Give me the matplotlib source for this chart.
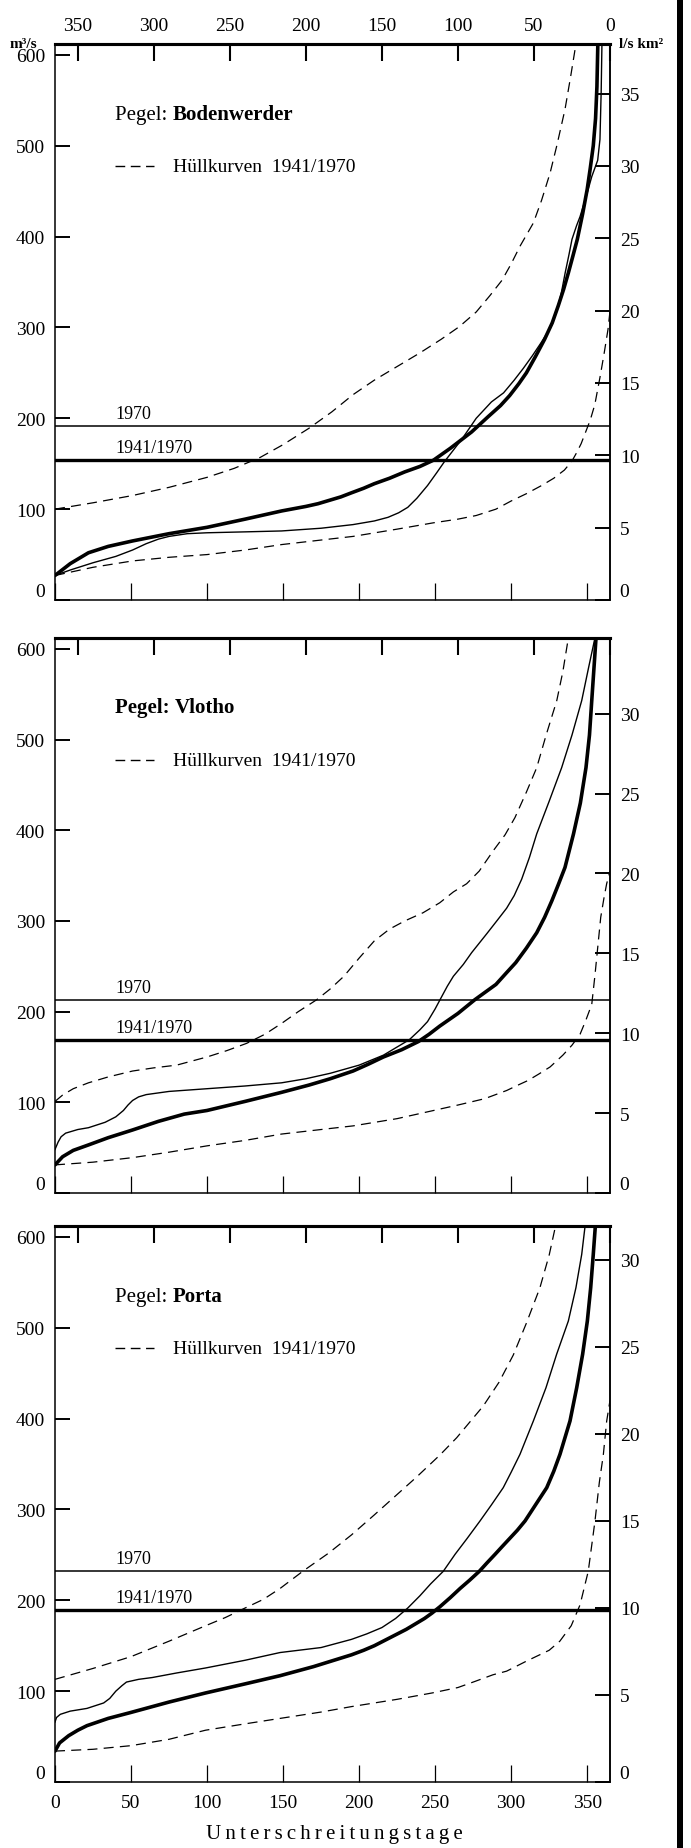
import matplotlib
matplotlib.use("Agg")
import matplotlib.pyplot as plt
from matplotlib.patches import Rectangle

plt.rcParams['font.family'] = ['Liberation Serif', 'DejaVu Serif']

# ---------------------------------------------------------------------------
# Gauges, catchment areas (km²) and mean discharges (m³/s)
# ---------------------------------------------------------------------------
stations = ["Bodenwerder", "Vlotho", "Porta"]
catchment_km2 = [15924, 17618, 19162]
mq_1970 = [191, 213, 232]
mq_1941_1970 = [154, 169, 189]

day_ticks = [0, 50, 100, 150, 200, 250, 300, 350]
q_ticks = [0, 100, 200, 300, 400, 500, 600]

# --- Bodenwerder -------------------------------------------------------------
bod_mean_day = [0, 10, 22, 35, 51, 75, 100, 125, 149, 165, 173, 181, 188, 195, 203, 210,
                220, 230, 240, 249, 260, 274, 285, 293, 299, 305, 310, 316, 322, 327,
                331, 334.5, 337.6, 340.5, 343.5, 347, 350, 352, 354, 355.5, 356.4,
                357, 357.3]
bod_mean_q = [27, 40, 52, 59, 65, 73, 80, 89, 98, 103, 106, 110, 113.5, 118, 123, 128,
              134, 141, 147, 154, 167, 185, 202, 214, 225, 238, 250, 268, 287, 305,
              324, 342, 360, 378, 397, 425, 452, 475, 500, 530, 565,
              612, 640]

bod_1970_day = [0, 10, 25, 40, 51, 60, 68, 75, 87, 100, 125, 149, 175, 196, 210, 219,
                226, 232, 238, 245, 251, 256, 262, 268, 277, 287, 295, 302, 308, 314,
                320, 326, 330, 333, 335.5, 338, 340, 343, 345.3, 350, 353, 356.9,
                358.4, 359.2, 359.7, 360]
bod_1970_q = [27, 33, 41, 48, 55, 62, 67, 70, 73, 74, 75, 76, 79, 83, 87, 91,
              96, 102, 112, 126, 140, 152, 165, 178, 200, 218, 228, 242, 255, 269,
              284, 300, 318, 338, 360, 380, 397, 412, 422, 448, 466, 484,
              507, 560, 612, 640]

bod_upper_day = [0, 25, 51, 75, 100, 118, 135, 150, 167, 182, 196, 210, 225, 240, 254,
                 266, 277, 286, 294, 300, 306, 314.6, 320, 325.6, 330, 335.4, 339,
                 342.6, 343.5]
bod_upper_q = [100, 107, 115, 124, 135, 145, 157, 171, 189, 207, 226, 242, 257, 272, 287,
               301, 317, 335, 352, 370, 390, 415, 440, 470, 500, 540, 575,
               612, 640]

bod_lower_day = [0, 25, 51, 75, 100, 125, 149, 175, 196, 225, 249, 265, 277, 290, 300,
                 310, 320, 328, 335, 340, 343, 346, 349, 352, 355, 358.4, 361, 363.7, 365]
bod_lower_q = [27, 36, 43, 47, 50, 55, 61, 66, 70, 78, 85, 89, 93, 100, 109,
               117, 126, 134, 143, 153, 162, 172, 185, 198, 215, 245, 270, 298, 318]

# --- Vlotho ------------------------------------------------------------------
vlo_mean_day = [0, 5, 12, 22, 35, 51, 68, 85, 100, 125, 149, 167, 181, 196, 206, 216,
                228, 239, 246, 253, 265, 276, 290, 297, 303, 310, 316.8, 322, 326.7,
                331, 335.4, 341, 345.5, 349.2, 351.5, 353, 354.5, 355.8, 356.2]
vlo_mean_q = [31, 40, 47, 53, 61, 69.5, 79, 87, 91, 101, 111, 119, 126, 134.5, 142, 150,
              158, 167, 175, 184, 198, 213, 230, 243, 254, 270, 287, 304, 322,
              340, 359, 396, 430, 469, 505, 543, 580, 612, 640]

vlo_1970_day = [0, 2, 4, 7, 15, 22, 33, 40, 45, 48, 51, 55, 60, 75, 100, 125, 149, 165,
                181, 200, 216, 226, 233, 240, 245, 250, 253.5, 258, 262, 268.5, 274,
                284, 291, 297, 302, 306.9, 312, 316.8, 325, 333.2, 340, 346.4, 351,
                355.1, 355.5]
vlo_1970_q = [48, 56, 62, 66, 70, 72, 78, 84, 91, 97, 102, 106, 108.5, 112, 115, 118, 121.5, 126,
              132, 141, 152, 162, 169, 180, 189, 203, 214, 228, 239, 252, 265,
              286, 301, 314, 328, 346, 370, 396, 432, 469, 505, 543, 580,
              612, 640]

vlo_upper_day = [0, 5, 12, 22, 35, 51, 65, 80, 100, 113, 126, 138, 149, 160, 172, 181,
                 190, 200, 210, 220, 230, 242, 253, 262, 270.7, 279, 288.3, 296, 302.5,
                 310, 316.8, 323, 330, 334, 337.6, 338.2]
vlo_upper_q = [101, 108, 115, 121.5, 128, 134.5, 138, 141, 150, 157, 165, 175, 187, 200, 213, 225,
               239, 259, 278, 291, 300, 309, 320, 332, 341, 355, 377.6, 395, 414,
               442, 469, 505, 543, 575, 612, 640]

vlo_lower_day = [0, 25, 51, 75, 100, 125, 149, 175, 196, 225, 249, 265, 282.6, 297, 305.8,
                 311, 318, 325.6, 334, 340, 345.3, 349, 353, 355.1, 357, 358.9, 361,
                 362.8, 365]
vlo_lower_q = [31, 34, 39, 45, 52, 58, 65, 70, 74, 82, 91, 97, 104, 113, 120,
               124, 131, 139, 152, 163, 175, 190, 208, 240, 272, 304, 325,
               341, 355]

# --- Porta -------------------------------------------------------------------
por_mean_day = [0, 3, 9, 15, 21, 35, 50, 75, 99, 125, 148, 170, 195, 203, 210, 217, 224,
                231, 237, 243, 248, 253.2, 260, 266.4, 272.6, 279.1, 284, 289.4, 294,
                299, 304, 309.1, 316, 323.4, 328, 332.1, 338.7, 343.1, 347, 350.1,
                352.3, 354, 355.6, 355.8]
por_mean_q = [34, 43, 51, 57, 62, 70, 76.6, 88, 98, 108, 117, 127, 140, 145, 150, 156, 162,
              168, 174, 180, 186, 193, 203, 213, 222, 232, 241, 250.6, 259,
              268, 277, 287.3, 305, 324, 342, 360.7, 397.4, 434, 470.8, 507.4,
              544.1, 580.8, 617.5, 640]

por_1970_day = [0, 1, 3.5, 10, 21, 32, 36, 40, 44, 47, 55, 64, 80, 99, 125, 148, 175, 195,
                205, 215, 224, 232, 240, 247, 255.4, 263.1, 271, 279.5, 287, 294.8,
                300, 305.8, 314.6, 322.9, 329.9, 337.6, 342.6, 346.4, 349, 349.3]
por_1970_q = [66, 71, 74.5, 78, 81, 87, 92, 100, 106, 110, 113, 115, 120, 125.5, 134, 142.5, 148, 157,
              163, 170, 180, 191.5, 205, 218, 232, 250.6, 268, 287.3, 305, 324,
              341, 360.7, 397.4, 434, 470.8, 507.4, 544.1, 580.8, 617.5, 640]

por_upper_day = [0, 25, 50, 75, 99, 112, 125, 137, 148, 163, 180, 195, 210, 224, 238,
                 253.2, 264.2, 281.7, 292, 301.4, 310, 318.9, 325, 329.9, 330.3]
por_upper_q = [113, 125, 138, 155, 172, 181, 191.5, 201, 213, 232, 252, 272, 294, 315, 336,
               360, 379, 414, 440, 470, 505, 544, 580, 617.5, 640]

por_lower_day = [0, 25, 50, 75, 99, 125, 148, 175, 195, 225, 248, 265, 276, 288, 297, 310,
                 325, 332, 339.5, 345.3, 350.7, 355.1, 358, 360.6, 362.8, 365]
por_lower_q = [34, 36, 40, 47, 57, 64, 70, 77, 83, 91, 98, 104, 110.6, 118, 122, 133,
               145, 155, 172, 195, 232, 287, 330, 360, 397, 420]

curves = [
    dict(mean=(bod_mean_day, bod_mean_q), y1970=(bod_1970_day, bod_1970_q),
         upper=(bod_upper_day, bod_upper_q), lower=(bod_lower_day, bod_lower_q)),
    dict(mean=(vlo_mean_day, vlo_mean_q), y1970=(vlo_1970_day, vlo_1970_q),
         upper=(vlo_upper_day, vlo_upper_q), lower=(vlo_lower_day, vlo_lower_q)),
    dict(mean=(por_mean_day, por_mean_q), y1970=(por_1970_day, por_1970_q),
         upper=(por_upper_day, por_upper_q), lower=(por_lower_day, por_lower_q)),
]

# ---------------------------------------------------------------------------
W, H = 691, 1849
fig = plt.figure(figsize=(W / 100, H / 100), dpi=100)
fig.patch.set_facecolor('white')


def px_rect(x0, y0, x1, y1):
    return [x0 / W, 1 - y1 / H, (x1 - x0) / W, (y1 - y0) / H]


panel_top = [45, 639, 1227]
panel_bottom = [601, 1194, 1783]
pegel_bold = [False, True, False]
DASH = (8, 5)
TICK_FS = 14

for i, name in enumerate(stations):
    ax = fig.add_axes(px_rect(55, panel_top[i], 610, panel_bottom[i]))
    ax.set_xlim(0, 365)
    ax.set_ylim(0, 612)
    c = curves[i]

    ax.plot(*c['upper'], color='black', lw=0.9, dashes=DASH)
    ax.plot(*c['lower'], color='black', lw=0.9, dashes=DASH)
    ax.plot(*c['y1970'], color='black', lw=1.0, solid_joinstyle='round')
    ax.plot(*c['mean'], color='black', lw=2.6, solid_capstyle='round',
            solid_joinstyle='round')

    ax.axhline(mq_1970[i], color='black', lw=1.1)
    ax.axhline(mq_1941_1970[i], color='black', lw=2.4)

    ax.annotate("1970", xy=(40, mq_1970[i]), xytext=(0, 3), textcoords='offset points',
                ha='left', va='bottom', fontsize=13)
    ax.annotate("1941/1970", xy=(40, mq_1941_1970[i]), xytext=(0, 3),
                textcoords='offset points', ha='left', va='bottom', fontsize=13)

    # gauge name and legend
    t = ax.text(0.108, 0.866, "Pegel: ", transform=ax.transAxes, fontsize=15,
                fontweight='bold' if pegel_bold[i] else 'normal',
                ha='left', va='baseline')
    ax.annotate(name, xy=(1, 0), xycoords=t, fontsize=15, fontweight='bold',
                ha='left', va='bottom')
    ax.plot([0.108, 0.178], [0.780, 0.780], transform=ax.transAxes,
            color='black', lw=1.0, dashes=(7, 4))
    ax.text(0.212, 0.780, "Hüllkurven  1941/1970", transform=ax.transAxes,
            fontsize=14, ha='left', va='center')

    # spines
    for side in ['left', 'right', 'bottom']:
        ax.spines[side].set_linewidth(1.1)
    ax.spines['top'].set_linewidth(2.2)

    # bottom / left axes
    ax.set_xticks(day_ticks)
    ax.tick_params(axis='x', direction='in', length=12, width=0.9,
                   labelsize=TICK_FS, pad=9, labelbottom=(i == 2))
    ax.set_yticks(q_ticks, [str(v) for v in q_ticks])
    ax.tick_params(axis='y', direction='in', length=11, width=1.4,
                   labelsize=TICK_FS, pad=7)
    ax.get_yticklabels()[0].set_verticalalignment('bottom')

    # top axis: days exceeded
    top = ax.secondary_xaxis('top', functions=(lambda d: 365 - d, lambda d: 365 - d))
    top.set_xticks(day_ticks)
    top.tick_params(axis='x', direction='in', length=12, width=1.5,
                    labelsize=TICK_FS, pad=7, labeltop=(i == 0))
    top.spines['top'].set_linewidth(2.2)

    # right axis: specific discharge
    area = catchment_km2[i]
    right = ax.secondary_yaxis('right', functions=(lambda q, a=area: q * 1000.0 / a,
                                                   lambda s, a=area: s * a / 1000.0))
    smax = 612 * 1000.0 / area
    sticks = [v for v in range(0, 40, 5) if v <= smax]
    right.set_yticks(sticks, [str(v) for v in sticks])
    right.tick_params(axis='y', direction='in', length=11, width=1.4,
                      labelsize=TICK_FS, pad=7)
    right.spines['right'].set_linewidth(1.1)
    right.get_yticklabels()[0].set_verticalalignment('bottom')

# unit labels
fig.text(10 / W, 1 - 45 / H, "m³/s", fontsize=11, fontweight='bold',
         ha='left', va='center')
fig.text(619 / W, 1 - 45 / H, "l/s km²", fontsize=11, fontweight='bold',
         ha='left', va='center')

# x label, letter-spaced
fig.text(334 / W, 1 - 1835 / H, "\u2009".join("Unterschreitungstage"),
         fontsize=15, ha='center', va='center')

# dark edge on the right margin of the sheet
fig.add_artist(Rectangle((677 / W, 0), 6 / W, 1, transform=fig.transFigure,
                         facecolor='black', edgecolor='none'))

fig.savefig("out.png", dpi=100, facecolor='white')
